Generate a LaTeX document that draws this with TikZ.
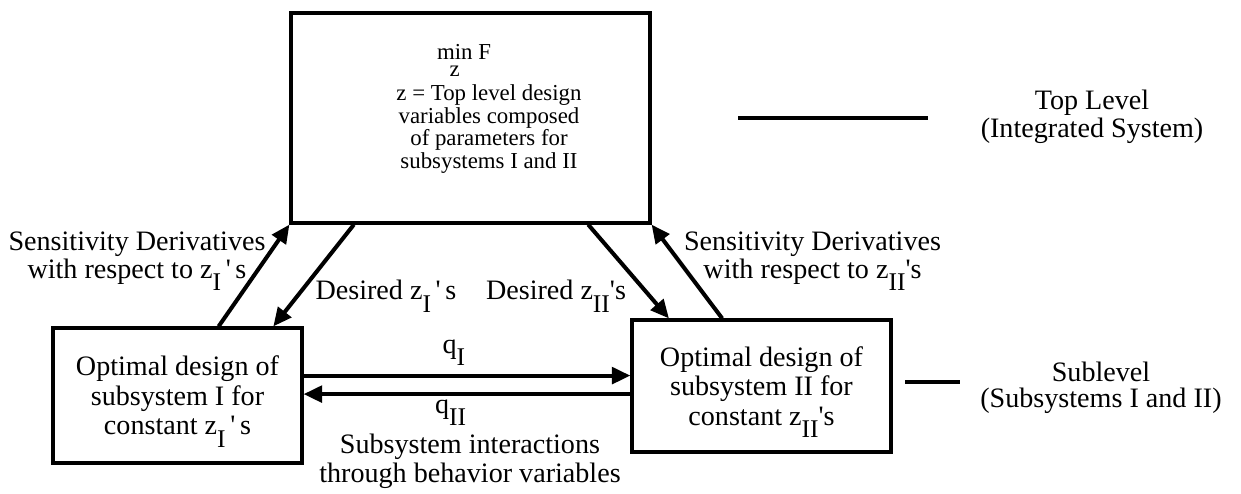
\documentclass[tikz,border=0pt]{standalone}
\usepackage{amsmath}
\usepackage{fontspec}
\setmainfont{Liberation Serif}
\usetikzlibrary{arrows.meta,calc}

% lowered index as printed (z_I, q_II), kept out of the line height
\newcommand{\lowsub}[1]{\raisebox{-7pt}[0pt][0pt]{\fontsize{14.5}{14.5}\selectfont #1}}
\newcommand{\ap}{\textquotesingle}

\begin{document}
\begin{tikzpicture}[
  blk/.style={draw, line width=1.8pt, align=center, inner sep=0pt,
              font=\fontsize{16}{16.8}\selectfont},
  lbl/.style={align=center, inner sep=0pt, font=\fontsize{16}{14.5}\selectfont},
  arr/.style={line width=2.3pt, -{Triangle[length=3.7mm,width=3.3mm]}},
  lvl/.style={line width=2.8pt}
]
  \useasboundingbox (0,0) rectangle (24.82,-9.88);

  % integrated system
  \node[blk, minimum width=7.18cm, minimum height=4.2cm] (top) at (9.41,-2.36) {};
  \node[align=center, inner sep=0pt, anchor=north, font=\fontsize{13}{12.8}\selectfont]
    (goal) at (9.78,-0.86)
    {\begin{tabular}[t]{@{}c@{}}min\\[-3pt]z\end{tabular} F\hspace*{1cm}\\
     z = Top level design\\ variables composed\\ of parameters for\\ subsystems I and II};

  % the two subsystems
  \node[blk, minimum width=4.98cm, minimum height=2.7cm] (sub1) at (3.55,-7.91)
    {Optimal design of\\ subsystem I for\\ constant z\lowsub{I}\,\ap\,s};
  \node[blk, minimum width=5.18cm, minimum height=2.64cm] (sub2) at (15.23,-7.72)
    {Optimal design of\\ subsystem II for\\ constant z\lowsub{II}\ap s};

  % derivatives go up, desired z's come down
  \draw[arr] ($(sub1.north west)!0.663!(sub1.north east)$) -- (top.south west);
  \draw[arr] ($(top.south west)!0.178!(top.south east)$) -- ($(sub1.north west)!0.88!(sub1.north east)$);
  \draw[arr] ($(top.south west)!0.825!(top.south east)$) -- ($(sub2.north west)!0.147!(sub2.north east)$);
  \draw[arr] ($(sub2.north west)!0.35!(sub2.north east)$) -- (top.south east);

  \node[lbl, anchor=north] (sens1) at (2.74,-4.64)
    {Sensitivity Derivatives\\ with respect to z\lowsub{I}\,\ap\,s};
  \node[lbl, anchor=north] (sens2) at (16.25,-4.64)
    {Sensitivity Derivatives\\ with respect to z\lowsub{II}\ap s};
  \node[lbl, anchor=north] (want1) at (7.72,-5.6) {Desired z\lowsub{I}\,\ap\,s};
  \node[lbl, anchor=north] (want2) at (11.12,-5.6) {Desired z\lowsub{II}\ap s};

  % behavior variables between subsystems
  \coordinate (qa) at ($(sub1.north east)!0.356!(sub1.south east)$);
  \coordinate (qb) at ($(sub2.north west)!0.56!(sub2.south west)$);
  \draw[arr] (qa) -- node[lbl, above=8pt, pos=0.46] (qI) {q\lowsub{I}} (qa -| sub2.west);
  \draw[arr] (qb) -- node[lbl, below=2pt, pos=0.55] (qII) {q\lowsub{II}} (qb -| sub1.east);
  \node[lbl, anchor=north, font=\fontsize{16}{16.5}\selectfont] (inter) at (9.4,-8.68)
    {Subsystem interactions\\ through behavior variables};

  % level marks
  \coordinate (tl1) at (14.76,-2.36);
  \coordinate (tl2) at (18.56,-2.36);
  \draw[lvl] (tl1) -- (tl2);
  \node[lbl, anchor=north, font=\fontsize{16}{12.5}\selectfont] (toplvl) at (21.84,-1.8)
    {Top Level\\ (Integrated System)};

  \coordinate (sl1) at (18.1,-7.64);
  \coordinate (sl2) at (19.2,-7.64);
  \draw[lvl] (sl1) -- (sl2);
  \node[lbl, anchor=north] (sublvl) at (22.02,-7.24)
    {Sublevel\\ (Subsystems I and II)};
\end{tikzpicture}
\end{document}
